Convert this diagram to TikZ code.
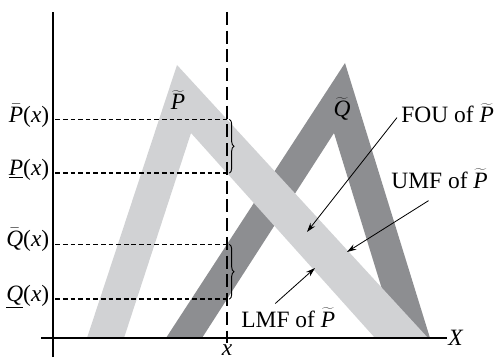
\documentclass[tikz,border=0pt]{standalone}
\usepackage{fontspec}
\setmainfont{Liberation Serif}
\usetikzlibrary{arrows.meta,decorations.pathreplacing}
\definecolor{lightband}{HTML}{D1D2D4}
\definecolor{darkband}{HTML}{8D8E91}
\newcommand{\Ptil}{$\widetilde{\textit{P}}$}
\newcommand{\Qtil}{$\widetilde{\textit{Q}}$}

\begin{document}
\begin{tikzpicture}[x=0.03cm,y=0.03cm,
  axis/.style={line width=1.3pt},
  guide/.style={line width=1.3pt,dash pattern=on 4pt off 2.5pt},
  vguide/.style={line width=1.1pt,dash pattern=on 11pt off 5pt},
  pointer/.style={line width=0.7pt,-{Stealth[length=8pt,width=5pt]}},
  bracket/.style={line width=0.8pt,decorate,decoration={brace,amplitude=4pt}},
  lbl/.style={font=\fontsize{20}{24}\selectfont,inner sep=1pt}]
\useasboundingbox (0,0) rectangle (499,357);
% corners of the two footprints
\coordinate (pa) at (87,19); \coordinate (pb) at (177,292); \coordinate (pc) at (428,19);
\coordinate (pd) at (124,19); \coordinate (pe) at (191,224); \coordinate (pf) at (375,19);
\coordinate (qa) at (166,19); \coordinate (qb) at (345,294); \coordinate (qc) at (430,19);
\coordinate (qd) at (202,19); \coordinate (qe) at (334,224); \coordinate (qf) at (397,19);
\fill[darkband,even odd rule] (qa) -- (qb) -- (qc) -- cycle (qd) -- (qe) -- (qf) -- cycle;
\fill[lightband,even odd rule] (pa) -- (pb) -- (pc) -- cycle (pd) -- (pe) -- (pf) -- cycle;
% axes
\coordinate (origin) at (53,19);
\node[lbl,anchor=west] (X) at (447,19) {\textit{X}};
\draw[axis] (41,19) -- (X.west);
\draw[axis] (53,0) -- (53,345);
\node[lbl,anchor=north] (xlab) at (227,14) {\textit{x}};
\coordinate (xtop) at (227,345); \coordinate (xbot) at (227,0);
\draw[vguide] (xtop) -- (xlab.north);
% membership grades at x
\coordinate (pU) at (intersection of pb--pc and xtop--xbot);
\coordinate (pL) at (intersection of pe--pf and xtop--xbot);
\coordinate (qU) at (intersection of qa--qb and xtop--xbot);
\coordinate (qL) at (intersection of qd--qe and xtop--xbot);
\node[lbl,anchor=mid east] (pUl) at ([xshift=-2pt]pU -| origin) {$\bar{\textit{P}}$(\textit{x})};
\node[lbl,anchor=mid east] (pLl) at ([xshift=-2pt]pL -| origin) {\underline{\textit{P}}(\textit{x})};
\node[lbl,anchor=mid east] (qUl) at ([xshift=-2pt]qU -| origin) {$\bar{\textit{Q}}$(\textit{x})};
\node[lbl,anchor=mid east] (qLl) at ([xshift=-2pt]qL -| origin) {\underline{\textit{Q}}(\textit{x})};
\foreach \g in {pU,pL,qU,qL}
  \draw[guide] ([xshift=2pt]\g -| origin) -- (\g);
\draw[bracket] ([xshift=2pt]pU) -- ([xshift=2pt]pL);
\draw[bracket] ([xshift=2pt]qU) -- ([xshift=2pt]qL);
% labels
\node[lbl,anchor=base] (ptil) at (178,247) {\Ptil};
\node[lbl,anchor=base] (qtil) at (342,240) {\Qtil};
\node[lbl,anchor=base west] (fou) at (400,234) {FOU of \Ptil};
\node[lbl,anchor=base west] (umf) at (390,169) {UMF of \Ptil};
\node[lbl,anchor=base west] (lmf) at (240,30) {LMF of \Ptil};
\coordinate (fouTip) at (307,125);
\coordinate (umfTip) at (347,105);
\coordinate (lmfTip) at (315,89);
\draw[pointer] ([shift={(-3,-4)}]fou.west) -- (fouTip);
\draw[pointer] ([shift={(-11,-11)}]umf.south) -- (umfTip);
\draw[pointer] ([shift={(-13,3)}]lmf.north) -- (lmfTip);
\end{tikzpicture}
\end{document}
